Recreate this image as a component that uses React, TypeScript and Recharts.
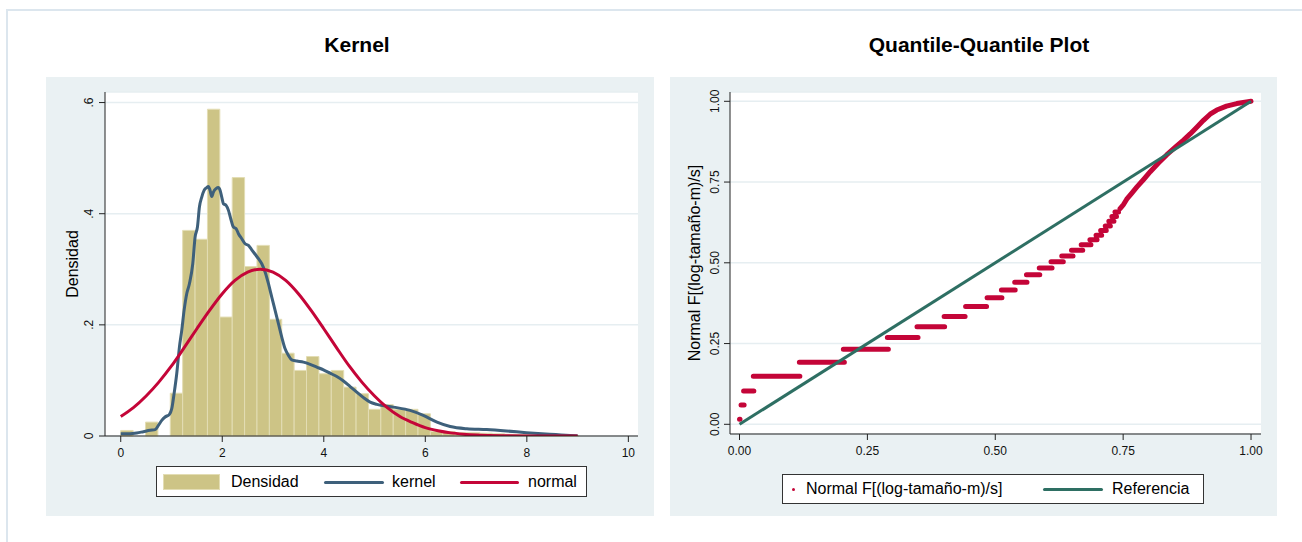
import React from "react";
import { ComposedChart, Line, XAxis, YAxis, CartesianGrid, ReferenceArea } from "recharts";

const FONT = '"Liberation Sans", Arial, Helvetica, sans-serif';

// --- Kernel: histograma (densidad por clase) ---
const BIN_START = 0;
const BIN_WIDTH = 0.244;
const HIST_DENSITY = [
  0.01, 0, 0.025, 0, 0.077, 0.37, 0.354, 0.588, 0.214, 0.465, 0.305, 0.343,
  0.21, 0.149, 0.118, 0.143, 0.112, 0.118, 0.088, 0.076, 0.048, 0.0565, 0.048,
  0.048, 0.04, 0.008, 0.008, 0.006, 0.006, 0.005, 0.004, 0.003, 0.003, 0.002,
  0.002, 0.001, 0.001,
];

// --- Kernel: curva kernel ---
const KERNEL_X = [
  0, 0.184, 0.315, 0.447, 0.578, 0.677, 0.742, 0.808, 0.874, 0.959, 1.005,
  1.051, 1.103, 1.156, 1.202, 1.248, 1.3, 1.353, 1.419, 1.465, 1.511, 1.55,
  1.596, 1.642, 1.695, 1.727, 1.76, 1.793, 1.826, 1.878, 1.924, 1.957, 1.99,
  2.023, 2.076, 2.122, 2.167, 2.22, 2.273, 2.319, 2.384, 2.45, 2.516, 2.581,
  2.647, 2.713, 2.778, 2.844, 2.91, 2.975, 3.041, 3.107, 3.172, 3.238, 3.304,
  3.369, 3.468, 3.599, 3.731, 3.862, 3.993, 4.125, 4.256, 4.388, 4.519, 4.65,
  4.782, 4.913, 5.044, 5.37, 5.7, 5.96, 6.23, 6.49, 6.82, 7.21, 7.6, 7.99,
  8.45, 8.85, 9.0,
];
const KERNEL_Y = [
  0.0042, 0.0042, 0.0054, 0.0078, 0.0102, 0.0114, 0.0192, 0.0282, 0.0342,
  0.039, 0.0492, 0.0762, 0.112, 0.16, 0.19, 0.226, 0.256, 0.274, 0.31, 0.358,
  0.376, 0.412, 0.43, 0.442, 0.447, 0.449, 0.442, 0.431, 0.439, 0.445, 0.447,
  0.442, 0.43, 0.418, 0.415, 0.406, 0.391, 0.376, 0.373, 0.364, 0.355, 0.346,
  0.343, 0.335, 0.327, 0.319, 0.31, 0.295, 0.274, 0.25, 0.226, 0.202, 0.178,
  0.157, 0.145, 0.137, 0.135, 0.133, 0.129, 0.124, 0.119, 0.113, 0.107, 0.099,
  0.089, 0.079, 0.069, 0.061, 0.057, 0.052, 0.046, 0.037, 0.025, 0.017, 0.013,
  0.0115, 0.009, 0.006, 0.003, 0.001, 0.0005,
];

// --- Kernel: curva normal ---
const NORMAL_X = [
  0, 0.25, 0.5, 0.75, 1, 1.25, 1.5, 1.75, 2, 2.25, 2.5, 2.75, 3, 3.25, 3.5,
  3.75, 4, 4.25, 4.5, 4.75, 5, 5.25, 5.5, 5.75, 6, 6.25, 6.5, 6.75, 7, 7.25,
  7.5, 8, 8.5, 9,
];
const NORMAL_Y = [
  0.035, 0.051, 0.072, 0.097, 0.126, 0.159, 0.193, 0.226, 0.256, 0.28, 0.295,
  0.3, 0.295, 0.28, 0.256, 0.226, 0.193, 0.159, 0.126, 0.097, 0.072, 0.051,
  0.035, 0.024, 0.015, 0.0094, 0.0056, 0.0033, 0.0018, 0.001, 0.0005, 0.0001,
  0, 0,
];

const KERNEL_X_TICKS = [0, 2, 4, 6, 8, 10];
const KERNEL_Y_TICKS = [0, 0.2, 0.4, 0.6];

// --- Q-Q: tramos horizontales de puntos ---
const QQ_RUN_START = [
  0, 0.003, 0.008, 0.027, 0.117, 0.203, 0.289, 0.347, 0.4, 0.442, 0.484,
  0.512, 0.538, 0.561, 0.586, 0.609, 0.63, 0.649, 0.668, 0.685, 0.697, 0.706,
  0.715, 0.722, 0.728, 0.734,
];
const QQ_RUN_END = [
  0.001, 0.009, 0.028, 0.118, 0.205, 0.291, 0.349, 0.401, 0.441, 0.483, 0.513,
  0.539, 0.562, 0.587, 0.611, 0.633, 0.652, 0.671, 0.687, 0.699, 0.708, 0.717,
  0.725, 0.732, 0.737, 0.741,
];
const QQ_RUN_LEVEL = [
  0.016, 0.06, 0.103, 0.149, 0.192, 0.232, 0.269, 0.302, 0.334, 0.365, 0.392,
  0.416, 0.44, 0.463, 0.484, 0.503, 0.521, 0.539, 0.556, 0.571, 0.585, 0.6,
  0.614, 0.629, 0.643, 0.657,
];
// --- Q-Q: cola superior (puntos continuos) ---
const QQ_TAIL_X = [
  0.744, 0.751, 0.757, 0.767, 0.777, 0.79, 0.803, 0.819, 0.835, 0.852, 0.868,
  0.881, 0.894, 0.907, 0.92, 0.933, 0.952, 0.972, 0.991, 1.0,
];
const QQ_TAIL_Y = [
  0.668, 0.681, 0.697, 0.716, 0.735, 0.758, 0.782, 0.809, 0.834, 0.858, 0.88,
  0.899, 0.92, 0.941, 0.96, 0.973, 0.985, 0.993, 0.998, 1.0,
];
const REF_X = [0, 1];
const REF_Y = [0, 1];
const QQ_TICKS = [0, 0.25, 0.5, 0.75, 1];

const COLORS = {
  panel: "#eaf1f3",
  frame: "#dce6ee",
  grid: "#e6eef1",
  bar: "#cdc486",
  barEdge: "#e3ddb4",
  kernel: "#3e607b",
  normal: "#c40538",
  ref: "#2e6f63",
  axis: "#222",
};

const kernelData = KERNEL_X.map((x, i) => ({ x, y: KERNEL_Y[i] }));
const normalData = NORMAL_X.map((x, i) => ({ x, y: NORMAL_Y[i] }));
const bins = HIST_DENSITY.map((v, i) => ({
  x1: BIN_START + i * BIN_WIDTH,
  x2: BIN_START + (i + 1) * BIN_WIDTH,
  v,
}));

const qqData: { x: number; y: number | null }[] = [];
QQ_RUN_START.forEach((s, i) => {
  qqData.push({ x: s, y: QQ_RUN_LEVEL[i] });
  qqData.push({ x: QQ_RUN_END[i], y: QQ_RUN_LEVEL[i] });
  qqData.push({ x: QQ_RUN_END[i], y: null });
});
QQ_TAIL_X.forEach((x, i) => qqData.push({ x, y: QQ_TAIL_Y[i] }));
const refData = REF_X.map((x, i) => ({ x, y: REF_Y[i] }));

const fmtDens = (v: number) => (v === 0 ? "0" : String(v).replace(/^0/, ""));
const fmt2 = (v: number) => v.toFixed(2);

function makeXTick(fmt: (v: number) => string) {
  return (p: any) => (
    <text x={p.x} y={p.y} dy={12.5} textAnchor="middle" fontSize={12} fontFamily={FONT} fill="#111">
      {fmt(p.payload.value)}
    </text>
  );
}

function makeYTick(fmt: (v: number) => string, shift: number) {
  return (p: any) => {
    const x = p.x - shift;
    return (
      <text x={x} y={p.y} transform={`rotate(-90 ${x} ${p.y})`} textAnchor="middle" fontSize={12} fontFamily={FONT} fill="#111">
        {fmt(p.payload.value)}
      </text>
    );
  };
}

function axisTitle(text: string, gap: number) {
  return (p: any) => {
    const vb = p.viewBox;
    const x = vb.x + vb.width - gap;
    const y = vb.y + vb.height / 2;
    return (
      <text x={x} y={y} transform={`rotate(-90 ${x} ${y})`} textAnchor="middle" fontSize={16} fontFamily={FONT} fill="#000">
        {text}
      </text>
    );
  };
}

const titleStyle: React.CSSProperties = {
  position: "absolute",
  top: 32,
  fontFamily: FONT,
  fontWeight: "bold",
  fontSize: 21,
  lineHeight: "26px",
  color: "#000",
  transform: "translateX(-50%)",
  whiteSpace: "nowrap",
};

const legendText: React.CSSProperties = {
  position: "absolute",
  fontFamily: FONT,
  fontSize: 16,
  lineHeight: "18px",
  color: "#000",
  whiteSpace: "nowrap",
};

function KernelPanel() {
  return (
    <div style={{ position: "absolute", left: 46, top: 77, width: 608, height: 439, background: COLORS.panel }}>
      <ComposedChart width={608} height={439} margin={{ top: 15, right: 16, left: 0, bottom: 50 }}>
        <CartesianGrid vertical={false} stroke={COLORS.grid} strokeWidth={1.5} fill="#fff" />
        <XAxis
          type="number"
          dataKey="x"
          domain={[-0.31, 10.19]}
          allowDataOverflow
          ticks={KERNEL_X_TICKS}
          height={30}
          stroke={COLORS.axis}
          tick={makeXTick((v) => String(v))}
        />
        <YAxis
          type="number"
          dataKey="y"
          domain={[0, 0.619]}
          allowDataOverflow
          ticks={KERNEL_Y_TICKS}
          width={59}
          stroke={COLORS.axis}
          tick={makeYTick(fmtDens, 4)}
          label={{ content: axisTitle("Densidad", 27) }}
        />
        {bins.map((b, i) =>
          b.v > 0 ? (
            <ReferenceArea
              key={i}
              x1={b.x1}
              x2={b.x2}
              y1={0}
              y2={b.v}
              fill={COLORS.bar}
              fillOpacity={1}
              stroke={COLORS.barEdge}
              strokeWidth={1}
              ifOverflow="visible"
            />
          ) : null
        )}
        <Line data={kernelData} dataKey="y" type="monotone" stroke={COLORS.kernel} strokeWidth={3} dot={false} isAnimationActive={false} />
        <Line data={normalData} dataKey="y" type="monotone" stroke={COLORS.normal} strokeWidth={3} dot={false} isAnimationActive={false} />
      </ComposedChart>
      <div style={{ position: "absolute", left: 110, top: 389, width: 429, height: 29, border: "1px solid #333", background: "#fff" }}>
        <div style={{ position: "absolute", left: 6, top: 7, width: 57, height: 16, background: COLORS.bar, boxShadow: `inset 0 0 0 1px ${COLORS.barEdge}` }} />
        <div style={{ ...legendText, left: 74, top: 6 }}>Densidad</div>
        <div style={{ position: "absolute", left: 167, top: 13.5, width: 60, height: 3, borderRadius: 2, background: COLORS.kernel }} />
        <div style={{ ...legendText, left: 235, top: 6 }}>kernel</div>
        <div style={{ position: "absolute", left: 303, top: 13.5, width: 59, height: 3, borderRadius: 2, background: COLORS.normal }} />
        <div style={{ ...legendText, left: 371, top: 6 }}>normal</div>
      </div>
    </div>
  );
}

function QQPanel() {
  return (
    <div style={{ position: "absolute", left: 670, top: 77, width: 607, height: 439, background: COLORS.panel }}>
      <ComposedChart width={607} height={439} margin={{ top: 15, right: 16, left: 0, bottom: 52 }}>
        <CartesianGrid vertical={false} stroke={COLORS.grid} strokeWidth={1.5} fill="#fff" />
        <XAxis
          type="number"
          dataKey="x"
          domain={[-0.0186, 1.0195]}
          allowDataOverflow
          ticks={QQ_TICKS}
          height={30}
          stroke={COLORS.axis}
          tick={makeXTick(fmt2)}
        />
        <YAxis
          type="number"
          dataKey="y"
          domain={[-0.03, 1.0288]}
          allowDataOverflow
          ticks={QQ_TICKS}
          width={60}
          stroke={COLORS.axis}
          tick={makeYTick(fmt2, 3)}
          label={{ content: axisTitle("Normal F[(log-tamaño-m)/s]", 30) }}
        />
        <Line data={qqData} dataKey="y" type="linear" stroke={COLORS.normal} strokeWidth={5} strokeLinecap="round" strokeLinejoin="round" dot={false} connectNulls={false} isAnimationActive={false} />
        <Line data={refData} dataKey="y" type="linear" stroke={COLORS.ref} strokeWidth={3} dot={false} isAnimationActive={false} />
      </ComposedChart>
      <div style={{ position: "absolute", left: 112, top: 397, width: 420, height: 28, border: "1px solid #333", background: "#fff" }}>
        <div style={{ position: "absolute", left: 9, top: 12.5, width: 3, height: 3, borderRadius: 2, background: COLORS.normal }} />
        <div style={{ ...legendText, left: 23, top: 5 }}>Normal F[(log-tamaño-m)/s]</div>
        <div style={{ position: "absolute", left: 260, top: 12.5, width: 60, height: 3, borderRadius: 2, background: COLORS.ref }} />
        <div style={{ ...legendText, left: 329, top: 5 }}>Referencia</div>
      </div>
    </div>
  );
}

export default function App() {
  return (
    <div style={{ position: "absolute", left: 0, top: 0, width: 1302, height: 542, overflow: "hidden", background: "#fff" }}>
      <div style={{ position: "absolute", left: 6, top: 9, width: 1310, height: 545, border: `2px solid ${COLORS.frame}`, boxSizing: "border-box" }} />
      <div style={{ ...titleStyle, left: 357 }}>Kernel</div>
      <div style={{ ...titleStyle, left: 979 }}>Quantile-Quantile Plot</div>
      <KernelPanel />
      <QQPanel />
    </div>
  );
}
